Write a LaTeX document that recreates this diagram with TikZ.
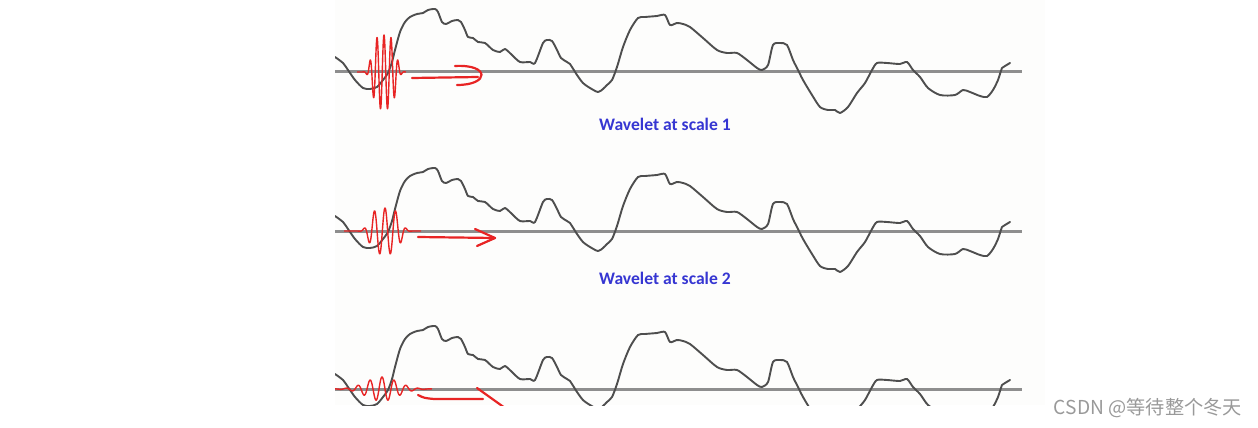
\documentclass[tikz,border=0pt]{standalone}
\usepackage{fontspec}
\newfontfamily\calib{Carlito}
\newfontfamily\cjk{Noto Sans CJK SC}
\definecolor{bgc}{HTML}{FDFDFC}
\definecolor{basec}{HTML}{8E8E8E}
\definecolor{sigc}{HTML}{4E4E4E}
\definecolor{redc}{HTML}{E82424}
\definecolor{bluec}{HTML}{3636D2}
\definecolor{wmc}{HTML}{999999}
\tikzset{
  baseln/.style={draw=basec, line width=3pt},
  sig/.style={draw=sigc, line width=1.9pt, line join=round, line cap=round},
  wav/.style={draw=redc, line width=1.4pt, line join=round},
  redarrow/.style={draw=redc, line width=2.2pt, line cap=round, line join=round},
  lab/.style={font=\calib\bfseries\fontsize{17.6}{20}\selectfont, text=bluec, inner sep=0pt},
  wm/.style={font=\cjk\fontsize{19.2}{22}\selectfont, text=wmc, inner sep=0pt}
}
\newcommand{\sigcurve}{plot[smooth,tension=0.45] coordinates {
(335,57) (343,63) (348,70) (355,80) (363,88) (370,89) (377,87) (383,80) (388,73) (392,62) (395,50) (400,32) (405,22) (410,17) (417,14) (423,13) (428,10) (435,9) (438,12) (442,22) (446,24) (452,21) (458,20) (461,22) (465,30) (468,37) (473,38) (478,42) (485,43) (493,50) (500,52) (505,49) (512,55) (520,62) (530,62) (535,63) (543,43) (547,40) (552,41) (557,50) (561,58) (567,62) (570,64) (577,75) (583,83) (590,88) (598,92) (603,89) (607,85) (612,80) (617,67) (623,47) (630,30) (638,18) (645,17) (657,16) (665,15) (670,25) (677,23) (683,24) (690,27) (703,38) (717,50) (727,53) (737,53) (747,60) (757,68) (762,70) (768,65) (773,45) (780,43) (787,45) (793,60) (798,70) (803,80) (812,95) (820,107) (828,110) (835,110) (840,113) (848,107) (857,93) (865,83) (872,70) (877,63) (887,63) (900,64) (907,62) (913,70) (920,77) (928,88) (940,95) (955,95) (963,90) (970,92) (980,96) (987,97) (993,90) (998,80) (1002,68) (1005,66) (1010,63)}}
\begin{document}
\begin{tikzpicture}[x=1pt,y=-1pt]
\useasboundingbox (0,0) rectangle (1258,428);
\fill[bgc] (335,0) rectangle (1045,405);
\begin{scope}
\clip (335,0) rectangle (1045,405);
% panel 1
\draw[baseln] (335,72) -- (1022,72);
\draw[sig] \sigcurve;
\draw[wav] plot[domain=357:406, samples=450] (\x, {72 - 37*exp(-((\x-384)*(\x-384)/180)*((\x-384)*(\x-384)/180))*cos(51.4*(\x-384))});
\coordinate (a1s) at (412,78);
\coordinate (a1e) at (478,77);
\draw[redarrow] (a1s) -- (a1e);
\draw[redarrow] (455,66) .. controls (490,64) and (490,85) .. (457,85);
% panel 2
\begin{scope}[yshift=-159pt]
\draw[baseln] (335,72) -- (1022,72);
\draw[sig] \sigcurve;
\end{scope}
\draw[wav] plot[domain=344:421, samples=400] (\x, {231 - 23*exp(-((\x-385)*(\x-385)/300)*((\x-385)*(\x-385)/300))*cos(34*(\x-385))});
\coordinate (a2s) at (418,237);
\coordinate (a2e) at (495,238);
\draw[redarrow] (a2s) -- (a2e);
\draw[redarrow] (475,229) -- (a2e) -- (477,246);
% panel 3
\begin{scope}[yshift=-317pt]
\draw[baseln] (335,72) -- (1022,72);
\draw[sig] \sigcurve;
\end{scope}
\draw[wav] plot[domain=335:432, samples=400] (\x, {389 - 12*exp(-(\x-382)*(\x-382)/484)*cos(30*(\x-382))});
\coordinate (a3s) at (418,395);
\coordinate (a3e) at (483,399);
\draw[redarrow] (a3s) .. controls (424,398) .. (434,399) -- (a3e);
\draw[redarrow] (477,388) -- (505,408);
\end{scope}
\node[lab] (t1) at (665,124) {Wavelet at scale 1};
\node[lab] (t2) at (665,278) {Wavelet at scale 2};
\node[wm, anchor=east] (wmk) at (1242,408) {CSDN @等待整个冬天};
\end{tikzpicture}
\end{document}
